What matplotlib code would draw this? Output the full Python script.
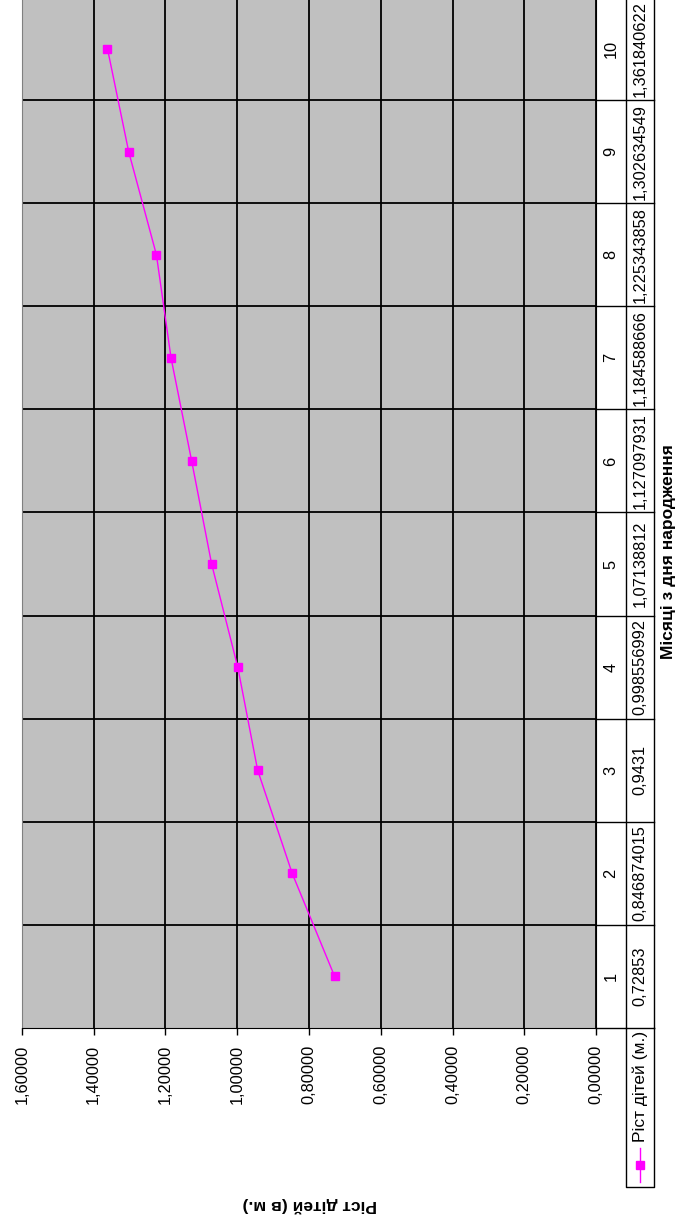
import matplotlib
matplotlib.use("Agg")
import matplotlib.pyplot as plt
from matplotlib.ticker import MultipleLocator, FuncFormatter
import matplotlib.transforms as mtransforms

# data (from the chart's data table)
months = [1, 2, 3, 4, 5, 6, 7, 8, 9, 10]
heights = [0.72853, 0.846874015, 0.9431, 0.998556992, 1.07138812,
           1.127097931, 1.184588666, 1.225343858, 1.302634549, 1.361840622]
series_name = "Ріст дітей (м.)"
x_title = "Місяці з дня народження"
y_title = "Ріст дітей (в м.)"

FONT = ["Liberation Sans Narrow", "Liberation Sans", "DejaVu Sans"]
plt.rcParams["font.family"] = FONT
FS = 11.8     # numbers
FS_LEG = 12.5
FS_TITLE = 12.5

fig = plt.figure(figsize=(6.8, 12.23), dpi=100)
W, H = 680, 1223
# plot area in pixels: x 22..596, y -3..1028 (chart is turned on its side)
L, R, T, B = 22, 596, -3, 1028
ax = fig.add_axes([L / W, (H - B) / H, (R - L) / W, (B - T) / H])
ax.set_facecolor("#c0c0c0")

def fx(px):
    return (px - L) / (R - L)

def fy(py):
    return (B - py) / (B - T)

# values run right-to-left, months bottom-to-top
ax.plot(heights, months, color="#ff00ff", lw=1, marker="s", ms=5.3,
        mfc="#ff00ff", mec="#ff00ff", zorder=3)
ax.set_xlim(1.6, 0)
ax.set_ylim(0.5, len(months) + 0.5)

ax.xaxis.set_major_locator(MultipleLocator(0.2))
ax.xaxis.set_major_formatter(FuncFormatter(lambda v, p: f"{v:.5f}".replace(".", ",")))
ax.tick_params(axis="x", direction="out", length=5, width=1, color="black",
               labelsize=FS, labelrotation=90, pad=7)
ax.set_yticks([m + 0.5 for m in months[:-1]], minor=True)
ax.set_yticks([])
ax.tick_params(axis="y", which="both", length=0, labelleft=False)
ax.grid(axis="x", which="major", color="black", lw=1.3)
ax.grid(axis="y", which="minor", color="black", lw=1.3)
ax.set_axisbelow(True)

ax.spines["top"].set_visible(False)
ax.spines["left"].set_color("#808080")
ax.spines["right"].set_color("black")
ax.spines["bottom"].set_color("black")

# data table to the right of the plot
blend = mtransforms.blended_transform_factory(ax.transAxes, ax.transData)
c0, c1, c2 = fx(596), fx(626), fx(654)
for m in [months[0] - 0.5] + [m + 0.5 for m in months]:
    ax.plot([c0, c2], [m, m], color="black", lw=1, transform=blend, clip_on=False)
for c in (c1, c2):
    ax.plot([c, c], [0, 1.01], color="black", lw=1, transform=ax.transAxes, clip_on=False)
for m, h in zip(months, heights):
    ax.text((c0 + c1) / 2, m, str(m), transform=blend, rotation=90,
            ha="center", va="center", fontsize=FS)
    ax.text((c1 + c2) / 2, m, str(h).replace(".", ","), transform=blend, rotation=90,
            ha="center", va="center", fontsize=FS)

# legend cell under the values column
lb = fy(1187)
ax.plot([c1, c1, c2, c2], [0, lb, lb, 0], color="black", lw=1,
        transform=ax.transAxes, clip_on=False)
kx = (c1 + c2) / 2
ax.plot([kx, kx], [fy(1148), fy(1182)], color="#ff00ff", lw=1,
        transform=ax.transAxes, clip_on=False)
ax.plot([kx], [fy(1165)], marker="s", ms=5.3, color="#ff00ff",
        transform=ax.transAxes, clip_on=False)
ax.text(kx, fy(1142), series_name, transform=ax.transAxes, rotation=90,
        ha="center", va="bottom", fontsize=FS_LEG)

# axis titles
ax.text(fx(668), fy(552), x_title, transform=ax.transAxes, rotation=90,
        ha="center", va="center", fontsize=FS_TITLE, fontweight="bold")
ax.text(fx(310), fy(1205), y_title, transform=ax.transAxes, rotation=180,
        ha="center", va="center", fontsize=FS_TITLE, fontweight="bold")

fig.savefig("out.png", dpi=100, facecolor="white")
